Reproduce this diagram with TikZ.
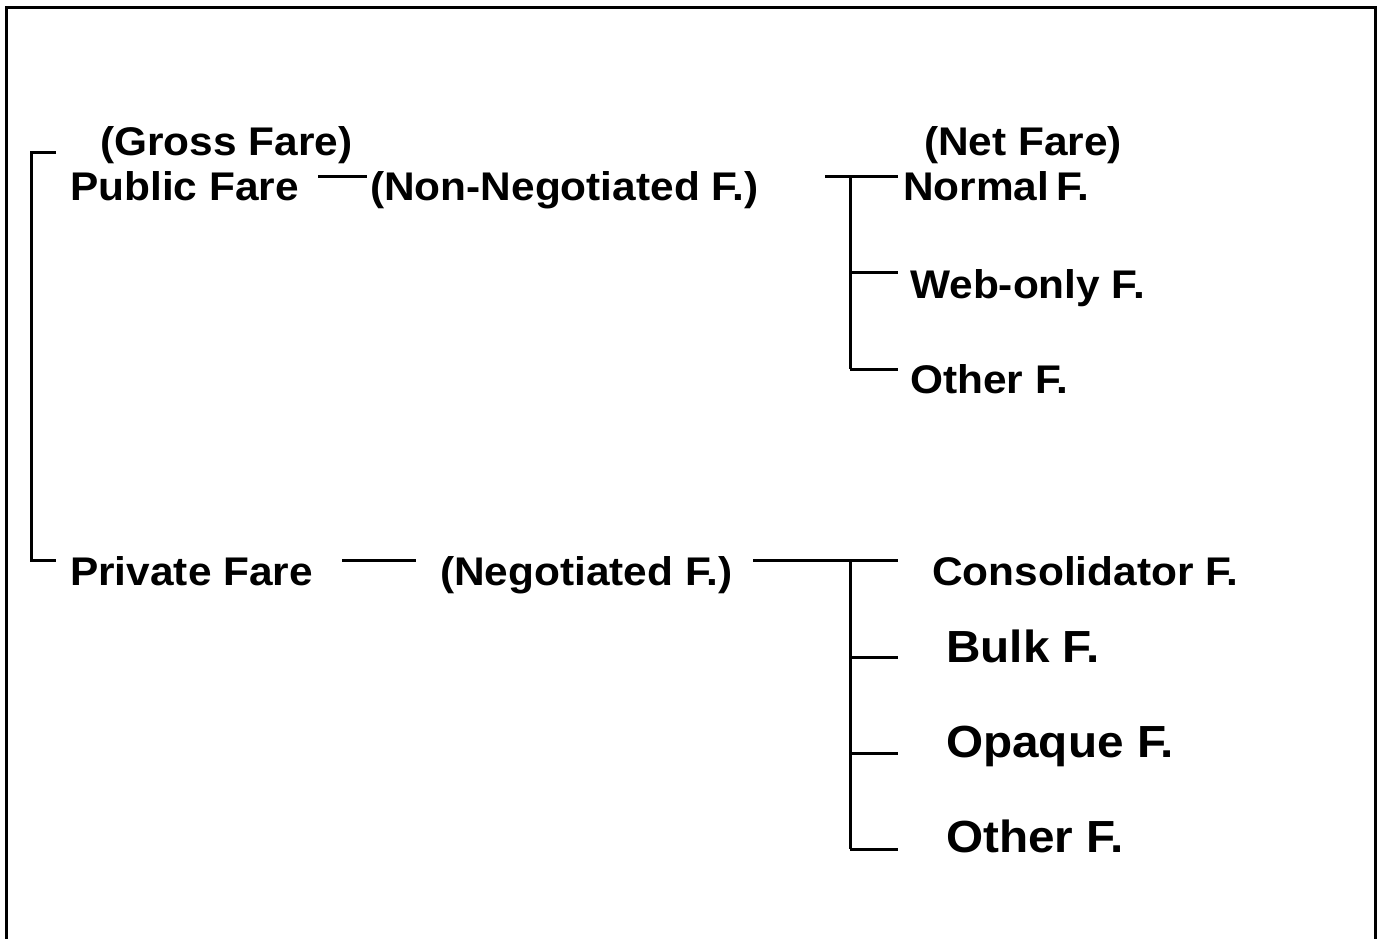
\documentclass[tikz,border=0pt]{standalone}
\usepackage{fontspec}
\setmainfont[FakeStretch=1.06]{Liberation Sans}
\begin{document}
\begin{tikzpicture}[x=1pt,y=-1pt,
  lbl/.style={anchor=base west,inner sep=0pt,font=\fontsize{40}{45}\selectfont\bfseries},
  big/.style={anchor=base west,inner sep=0pt,font=\fontsize{45}{52}\selectfont\bfseries},
  conn/.style={line width=3pt,line cap=butt}]
\clip (0,0) rectangle (1384,939);
\draw[line width=3pt] (6.5,8) rectangle (1375.5,980);
% texts
\node[lbl] (gross) at (100,155) {(Gross Fare)};
\node[lbl] (pub) at (70,200) {Public Fare};
\node[lbl] (nonneg) at (370,200) {(Non-Negotiated F.)};
\node[lbl] (net) at (924,155) {(Net Fare)};
\node[lbl] (normal) at (903,200) {Normal\hspace{-0.12em} F.};
\node[lbl] (web) at (910,298) {Web-only F.};
\node[lbl] (other1) at (910,393) {Other F.};
\node[lbl] (priv) at (70,585) {Private Fare};
\node[lbl] (neg) at (440,585) {(Negotiated F.)};
\node[lbl] (cons) at (932,585) {Consolidator F.};
\node[big] (bulk) at (946,662) {Bulk F.};
\node[big] (opaque) at (946,757) {Opaque F.};
\node[big] (other2) at (946,852) {Other F.};
% coordinates
\coordinate (bt) at (31,153);
\coordinate (bb) at (31,560);
\coordinate (pubR) at (318,176);
\coordinate (nonL) at (367,176);
\coordinate (t0) at (825,176);
\coordinate (tA) at (850,176);
\coordinate (tB) at (850,272);
\coordinate (tC) at (850,369);
\coordinate (privR) at (342,560);
\coordinate (negL) at (416,560);
\coordinate (b0) at (753,560);
\coordinate (bA) at (850,560);
\coordinate (bB) at (850,657);
\coordinate (bC) at (850,753);
\coordinate (bD) at (850,849);
% connectors
\draw[conn] (56,153) -- (bt) -- (bb) -- (56,560);
\draw[conn] (pubR) -- (nonL);
\draw[conn] (t0) -- (898,176);
\draw[conn] (tA) -- (tC);
\draw[conn] (tB) -- (898,272);
\draw[conn] (tC) -- (898,369);
\draw[conn] (privR) -- (negL);
\draw[conn] (b0) -- (898,560);
\draw[conn] (bA) -- (bD);
\draw[conn] (bB) -- (898,657);
\draw[conn] (bC) -- (898,753);
\draw[conn] (bD) -- (898,849);
\end{tikzpicture}
\end{document}
